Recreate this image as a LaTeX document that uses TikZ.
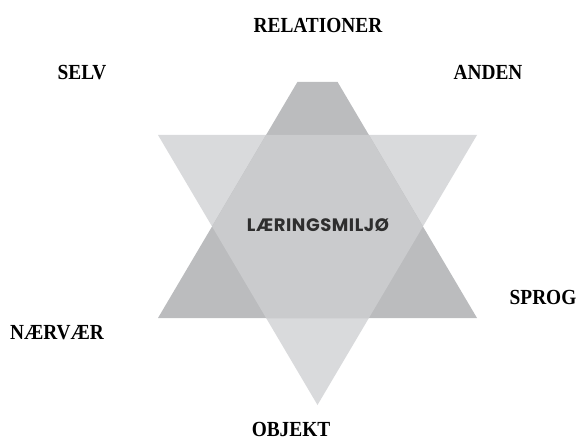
\documentclass[tikz,border=0pt]{standalone}
\usepackage{fontspec}
\newfontfamily\lblfont{Liberation Serif}[FakeStretch=0.9]
\newfontfamily\ctrfont{Poppins}[LetterSpace=3]
\definecolor{upgray}{HTML}{BBBCBE}
\definecolor{downgray}{HTML}{D9DADC}
\definecolor{midgray}{HTML}{CACBCD}
\definecolor{ctrtext}{HTML}{2E2E2E}
\begin{document}
\begin{tikzpicture}[x=1pt,y=-1pt,
  lbl/.style={font=\lblfont\bfseries\fontsize{21.5}{24}\selectfont, anchor=base, inner sep=0pt, text=black},
  ctr/.style={font=\ctrfont\bfseries\fontsize{18}{20}\selectfont, anchor=base, inner sep=0pt, text=ctrtext}]
\useasboundingbox (0,0) rectangle (579,441);
% downward triangle
\fill[downgray] (158,135) -- (477,135) -- (317.5,405) -- cycle;
% upward truncated triangle
\fill[upgray] (158,318) -- (477,318) -- (337.6,82) -- (297.4,82) -- cycle;
% overlap
\begin{scope}
\clip (158,135) -- (477,135) -- (317.5,405) -- cycle;
\fill[midgray] (158,318) -- (477,318) -- (337.6,82) -- (297.4,82) -- cycle;
\end{scope}
\node[ctr] (center) at (318,232) {LÆRINGSMILJØ};
\node[lbl] (rel) at (318,33) {RELATIONER};
\node[lbl] (selv) at (82,80) {SELV};
\node[lbl] (anden) at (488,80) {ANDEN};
\node[lbl] (sprog) at (543,305) {SPROG};
\node[lbl] (naervaer) at (57,339) {NÆRVÆR};
\node[lbl] (objekt) at (291,436) {OBJEKT};
\end{tikzpicture}
\end{document}
